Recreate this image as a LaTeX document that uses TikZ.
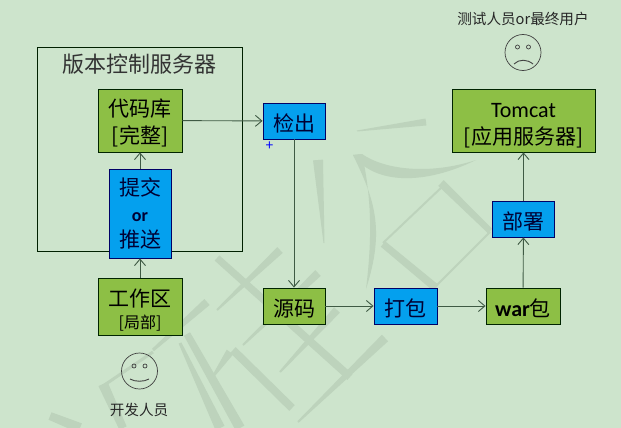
\documentclass[tikz,border=0pt]{standalone}
\usepackage{fontspec}
\setmainfont{Noto Sans CJK SC}
\newfontfamily\latinfont{Carlito}
\usetikzlibrary{arrows.meta,calc,shadows}
\definecolor{pagebg}{HTML}{CDE4CC}
\definecolor{inkstroke}{HTML}{BDD3BC}
\definecolor{boxgreen}{HTML}{8DBF45}
\definecolor{boxblue}{HTML}{04A0EE}
\definecolor{linegray}{HTML}{3F5A44}
\newcommand{\pushdown}[1]{\rule{0pt}{#1}}
\begin{document}
\begin{tikzpicture}[x=1pt,y=-1pt,
    flowarrow/.style={-{Straight Barb[length=6.5pt,width=11pt]},linegray,line width=0.9pt},
    boxtext/.style={align=center,inner sep=0pt,font=\fontsize{21}{27}\selectfont},
    greenbox/.style={boxtext,draw=black!65!green!40!black,fill=boxgreen,line width=0.9pt,
        drop shadow={shadow xshift=0.8pt,shadow yshift=-1pt,opacity=0.4}},
    bluebox/.style={boxtext,draw=blue!40!black,fill=boxblue,text=black!80!blue,line width=0.9pt,
        drop shadow={shadow xshift=0.8pt,shadow yshift=-1pt,opacity=0.4}},
    smalllabel/.style={inner sep=0pt,text=black!85,font=\fontsize{14.6}{16}\selectfont}]
    % page
    \fill[pagebg] (0,0) rectangle (621,428);
    \useasboundingbox (0,0) rectangle (621,428);
    % watermark strokes: start x/y, end x/y, half widths
    \begin{scope}
    \clip (0,0) rectangle (621,428);
    \foreach \xa/\ya/\xb/\yb/\wa/\wb in {
        357/131/426/122/0.5/3.5, 318/160/324/243/5/0.5, 383/244/436/288/3.5/4,
        383/243/443/186/1/1, 441/183/490/231/4/3, 437/285/490/232/1/1,
        217/258/350/377/3.5/4, 280/250/217/310/4/1, 318/273/243/345/4/1,
        337/310/280/372/4/1, 385/338/298/422/4.5/1, 207/302/153/350/4/1.5,
        187/334/240/428/3.5/5, 233/350/292/408/4/4, 230/352/212/378/4/1,
        180/343/220/428/1.5/5, 153/352/103/386/1.5/1.5, 103/384/123/428/5/4,
        50/416/80/428/4/5}
        \fill[inkstroke] ($(\xa,\ya)!\wa pt!90:(\xb,\yb)$) -- ($(\xa,\ya)!\wa pt!-90:(\xb,\yb)$)
            -- ($(\xb,\yb)!\wb pt!90:(\xa,\ya)$) -- ($(\xb,\yb)!\wb pt!-90:(\xa,\ya)$) -- cycle;
    \fill[inkstroke] (353,155) .. controls (375,185) and (425,185) .. (476,160)
        .. controls (430,175) and (385,170) .. (362,154) -- cycle;
    \fill[inkstroke] (353,155) .. controls (375,200) and (385,230) .. (366,289)
        .. controls (372,240) and (372,200) .. (362,154) -- cycle;
    \end{scope}
    % server frame
    \node[draw=black!75!green!50!black,line width=0.9pt,minimum width=205pt,minimum height=203.5pt,inner sep=0pt] (server) at (139.5,149.25) {};
    \node[boxtext,font=\fontsize{22}{26}\selectfont,text=black!80] (servertitle) at (139.5,64) {版本控制服务器};
    % boxes
    \node[greenbox,minimum width=84pt,minimum height=63pt] (repo) at (140,120.5) {\pushdown{23pt}代码库\\{}[完整]};
    \node[bluebox,minimum width=62pt,minimum height=89pt] (commit) at (140,213.5) {提交\\[-1pt]{\latinfont\fontsize{18}{27}\selectfont\bfseries or}\\[-1pt]推送};
    \node[greenbox,minimum width=84pt,minimum height=57pt] (work) at (140,306.5) {\pushdown{24pt}工作区\\[-5pt]{\fontsize{16}{20}\selectfont [局部]}};
    \node[bluebox,minimum width=62pt,minimum height=36pt] (checkout) at (294,121) {\pushdown{22pt}检出};
    \node[greenbox,minimum width=62pt,minimum height=36pt] (source) at (294,306) {\pushdown{22pt}源码};
    \node[bluebox,minimum width=63pt,minimum height=36pt] (pack) at (405.5,306) {\pushdown{22pt}打包};
    \node[greenbox,minimum width=74pt,minimum height=36pt] (war) at (523,306) {\pushdown{22pt}{\latinfont\fontsize{22}{27}\selectfont\bfseries war}包};
    \node[bluebox,minimum width=62pt,minimum height=36pt] (deploy) at (523.5,219) {\pushdown{22pt}部署};
    \node[greenbox,minimum width=143pt,minimum height=63pt] (tomcat) at (523.5,120.5) {\pushdown{24pt}{\latinfont\fontsize{22}{27}\selectfont Tomcat}\\{}[应用服务器]};
    \node[inner sep=0pt,text=blue,font=\fontsize{14}{14}\selectfont] (plus) at (269.5,146.5) {+};
    % arrows
    \draw[flowarrow] (work) -- (commit);
    \draw[flowarrow] (commit) -- (repo);
    \draw[flowarrow] (repo) -- (checkout);
    \draw[flowarrow] (checkout) -- (source);
    \draw[flowarrow] (source) -- (pack);
    \draw[flowarrow] (pack) -- (war);
    \draw[flowarrow] (war) -- (deploy);
    \draw[flowarrow] (deploy) -- (tomcat);
    % faces
    \node[circle,draw=black!75,line width=0.7pt,minimum size=36pt,inner sep=0pt] (devface) at (139.5,371) {};
    \draw[black!75,line width=0.7pt] (134,366) circle (2pt) (145,366) circle (2pt);
    \draw[black!75,line width=0.9pt] (130,379) .. controls (135,382) and (144,382) .. (149,379);
    \node[smalllabel] (devlabel) at (139,410) {开发人员};
    \node[circle,draw=black!75,line width=0.7pt,minimum size=36pt,inner sep=0pt] (testface) at (523,52.5) {};
    \draw[black!75,line width=0.7pt] (517.5,47) circle (2pt) (528.5,47) circle (2pt);
    \draw[black!75,line width=0.9pt] (514,64) .. controls (519,59) and (527,59) .. (533,64);
    \node[smalllabel] (testlabel) at (523,19) {测试人员or最终用户};
\end{tikzpicture}
\end{document}
